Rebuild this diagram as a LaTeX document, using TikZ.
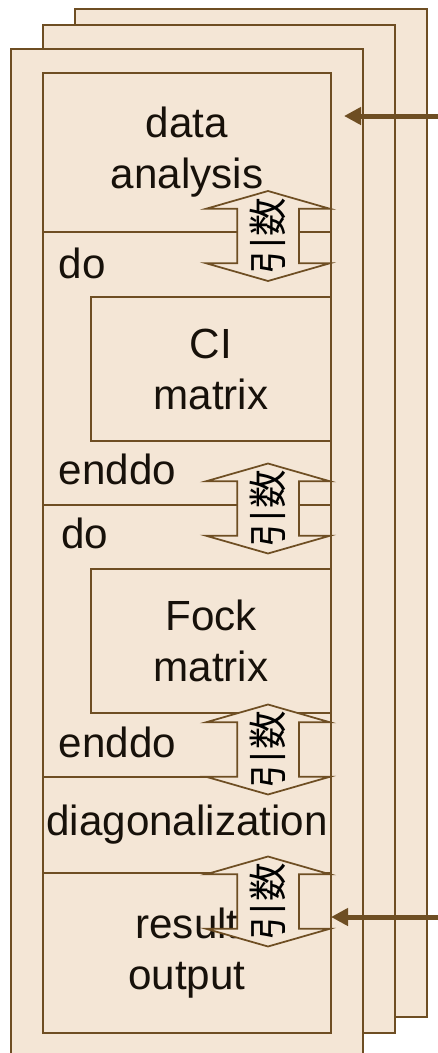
\documentclass[tikz,border=0pt]{standalone}
\usepackage{fontspec}
\setmainfont{Liberation Sans}
\newfontfamily\jpfont{Noto Sans CJK JP}
\usetikzlibrary{shapes.arrows,arrows.meta,positioning,calc}

\definecolor{sheetbg}{HTML}{F4E6D6}
\definecolor{sheetline}{HTML}{6E4E23}
\definecolor{inkdark}{HTML}{17110A}

\begin{document}
\begin{tikzpicture}[
    x=1cm, y=-1cm,
    font=\fontsize{24}{29}\selectfont,
    sheet/.style={draw=sheetline, fill=sheetbg, line width=0.055cm, rectangle, outer sep=0pt, anchor=north west, minimum width=7.04cm, minimum height=20.16cm},
    sect/.style={draw=sheetline, line width=0.055cm, rectangle, outer sep=0pt, inner sep=0pt, minimum width=5.76cm, align=center, text=inkdark},
    kernel/.style={draw=sheetline, line width=0.055cm, rectangle, outer sep=0pt, inner sep=0pt, minimum width=4.8cm, minimum height=2.88cm, align=center, text=inkdark},
    kw/.style={anchor=base west, inner sep=0pt, text=inkdark},
    argarrow/.style={double arrow, rotate=90, draw=sheetline, fill=sheetbg, line width=0.035cm, inner xsep=0pt, inner ysep=0.6cm, double arrow head extend=0.62cm, double arrow tip angle=148, minimum height=1.8cm},
    arglbl/.style={rotate=90, inner sep=0pt, font=\jpfont\fontsize{22}{22}\selectfont, text=black},
    feed/.style={draw=sheetline, line width=0.1cm, -{Triangle[length=0.34cm, width=0.34cm]}}
]
\useasboundingbox (0,0) rectangle (8.76,21.06);
\clip (0,0) rectangle (8.76,21.06);

% stacked copies
\node[sheet] (back) at (1.50,0.18) {};
\node[sheet] (middle) at (0.86,0.50) {};
\node[sheet] (front) at (0.22,0.98) {};

% program flow
\node[sect, anchor=north west, minimum height=3.18cm] (analysis) at (0.86,1.46) {data\\analysis};
\node[sect, below=0pt of analysis, minimum height=5.46cm] (loopci) {};
\node[sect, below=0pt of loopci, minimum height=5.44cm] (loopfock) {};
\node[sect, below=0pt of loopfock, minimum height=1.92cm] (diag) {diagonalization};
\node[sect, below=0pt of diag, minimum height=3.20cm] (result) {result\\output};

\node[kernel, below=1.3cm of loopci.north east, anchor=north east] (cimat) {CI\\matrix};
\node[kernel, below=1.28cm of loopfock.north east, anchor=north east] (fockmat) {Fock\\matrix};

\node[kw] (do1) at ($(loopci.north west)+(0.31,0.92)$) {do};
\node[kw] (enddo1) at ($(loopci.south west)+(0.31,-0.42)$) {enddo};
\node[kw] (do2) at ($(loopfock.north west)+(0.36,0.86)$) {do};
\node[kw] (enddo2) at ($(loopfock.south west)+(0.31,-0.40)$) {enddo};

% argument passing
\foreach \i/\y in {1/4.72, 2/10.17, 3/14.99, 4/18.03} {
  \node[argarrow] (arg\i) at (5.36,\y) {};
  \node[arglbl] (argtxt\i) at (arg\i) {引数};
}

% inputs from outside
\coordinate (feedA) at (8.76,2.32);
\coordinate (portA) at (6.88,2.32);
\coordinate (feedB) at (8.76,18.34);
\draw[feed] (feedA) -- (portA);
\draw[feed] (feedB) -- (result.east |- feedB);

\end{tikzpicture}
\end{document}
